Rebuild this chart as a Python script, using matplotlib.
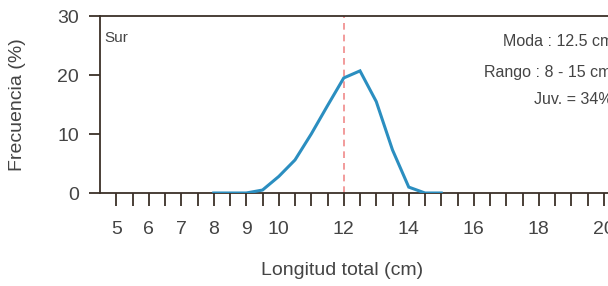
import matplotlib
matplotlib.use("Agg")
import matplotlib.pyplot as plt
from matplotlib.ticker import FixedLocator
from matplotlib import font_manager
import numpy as np

names = {f.name for f in font_manager.fontManager.ttflist}
FONT = ['Liberation Sans Narrow', 'DejaVu Sans'] if 'Liberation Sans Narrow' in names else ['Liberation Sans', 'DejaVu Sans']
plt.rcParams['font.family'] = FONT

# Data
lengths = [8, 8.5, 9, 9.5, 10, 10.5, 11, 11.5, 12, 12.5, 13, 13.5, 14, 14.5, 15]
freq = [0, 0, 0, 0.5, 2.8, 5.6, 10.0, 14.8, 19.5, 20.7, 15.5, 7.3, 1.0, 0, 0]
xtick_vals = [5, 6, 7, 8, 9, 10, 12, 14, 16, 18, 20]
ytick_vals = [0, 10, 20, 30]
mode_line = 12
zone = "Sur"
notes = ["Moda : 12.5 cm", "Rango : 8 - 15 cm", "Juv. = 34%"]

W, H = 608, 286
fig = plt.figure(figsize=(W / 100, H / 100), dpi=100)
xmin, xmax = 4.5, 22
pxcm = 32.5
axw = (xmax - xmin) * pxcm
ax = fig.add_axes([100 / W, (H - 193) / H, axw / W, (193 - 16) / H])

line_col = '#2b8ec0'
ax.plot(lengths, freq, color=line_col, lw=2.2, solid_joinstyle='miter', zorder=3)
ax.axvline(mode_line, color='#f08a8a', lw=1.2, ls=(0, (4, 3)), zorder=2)

ax.set_xlim(xmin, xmax)
ax.set_ylim(0, 30)

spine_col = '#3b3028'
for s in ax.spines.values():
    s.set_color(spine_col)
    s.set_linewidth(1.3)

ax.xaxis.set_major_locator(FixedLocator(xtick_vals))
ax.xaxis.set_minor_locator(FixedLocator(np.arange(5, 22, 0.5)))
ax.set_yticks(ytick_vals)
ax.tick_params(axis='x', which='both', direction='out', length=9, width=1.3,
               color=spine_col, labelsize=14, labelcolor='#444444', pad=11)
ax.tick_params(axis='y', which='both', direction='out', length=8, width=1.3,
               color=spine_col, labelsize=14, labelcolor='#444444', pad=7)
ax.tick_params(top=False, right=False)

ax.set_xlabel("Longitud total (cm)", fontsize=14, color='#444444')
ax.xaxis.set_label_coords((342 - 100) / axw, -0.39)
ax.set_ylabel("Frecuencia (%)", fontsize=14, color='#444444')
ax.yaxis.set_label_coords(-74 / axw, 0.5)

ax.text(xmin + 4 / pxcm, 26.3, zone, fontsize=11, color='#444444', ha='left', va='center')
ax.text(16.9, 25.6, notes[0], fontsize=11.5, color='#444444', ha='left', va='center')
ax.text(16.32, 20.5, notes[1], fontsize=11.5, color='#444444', ha='left', va='center')
ax.text(17.86, 15.8, notes[2], fontsize=11.5, color='#444444', ha='left', va='center')

fig.savefig("out.png", dpi=100)
